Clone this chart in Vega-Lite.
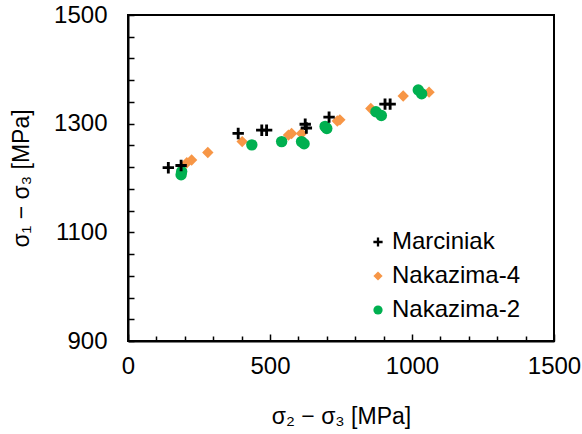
{
  "$schema": "https://vega.github.io/schema/vega-lite/v6.json",
  "autosize": {"type": "none"},
  "padding": {"left": 128, "top": 15, "right": 28, "bottom": 93},
  "width": 426,
  "height": 326,
  "background": "white",
  "config": {
    "view": {"stroke": "black", "strokeWidth": 2},
    "font": "Liberation Sans"
  },
  "data": {
    "values": [
      {"series": "Marciniak", "x": 142, "y": 1219},
      {"series": "Marciniak", "x": 187, "y": 1223},
      {"series": "Marciniak", "x": 388, "y": 1282},
      {"series": "Marciniak", "x": 471, "y": 1288},
      {"series": "Marciniak", "x": 488, "y": 1288},
      {"series": "Marciniak", "x": 624, "y": 1299},
      {"series": "Marciniak", "x": 628, "y": 1292},
      {"series": "Marciniak", "x": 708, "y": 1312},
      {"series": "Marciniak", "x": 905, "y": 1336},
      {"series": "Marciniak", "x": 923, "y": 1336},
      {"series": "Nakazima-4", "x": 207, "y": 1228},
      {"series": "Nakazima-4", "x": 224, "y": 1233},
      {"series": "Nakazima-4", "x": 281, "y": 1247},
      {"series": "Nakazima-4", "x": 402, "y": 1267},
      {"series": "Nakazima-4", "x": 565, "y": 1279},
      {"series": "Nakazima-4", "x": 576, "y": 1282},
      {"series": "Nakazima-4", "x": 611, "y": 1282},
      {"series": "Nakazima-4", "x": 737, "y": 1305},
      {"series": "Nakazima-4", "x": 746, "y": 1307},
      {"series": "Nakazima-4", "x": 855, "y": 1328},
      {"series": "Nakazima-4", "x": 969, "y": 1351},
      {"series": "Nakazima-4", "x": 1060, "y": 1358},
      {"series": "Nakazima-2", "x": 187, "y": 1206},
      {"series": "Nakazima-2", "x": 189, "y": 1212},
      {"series": "Nakazima-2", "x": 436, "y": 1261},
      {"series": "Nakazima-2", "x": 541, "y": 1267},
      {"series": "Nakazima-2", "x": 611, "y": 1267},
      {"series": "Nakazima-2", "x": 620, "y": 1263},
      {"series": "Nakazima-2", "x": 694, "y": 1295},
      {"series": "Nakazima-2", "x": 700, "y": 1291},
      {"series": "Nakazima-2", "x": 873, "y": 1322},
      {"series": "Nakazima-2", "x": 892, "y": 1315},
      {"series": "Nakazima-2", "x": 1022, "y": 1362},
      {"series": "Nakazima-2", "x": 1034, "y": 1355}
    ]
  },
  "mark": {"type": "point", "filled": true, "opacity": 1, "size": 130},
  "encoding": {
    "x": {
      "field": "x", "type": "quantitative",
      "scale": {"domain": [0, 1500], "nice": false},
      "axis": {
        "title": "σ₂ − σ₃ [MPa]",
        "values": [0,100,200,300,400,500,600,700,800,900,1000,1100,1200,1300,1400,1500],
        "labelExpr": "datum.value % 500 === 0 ? datum.label : ''",
        "format": "d",
        "grid": false,
        "domainColor": "black", "domainWidth": 2,
        "tickColor": "black", "tickWidth": 1.5,
        "tickSize": {"condition": {"test": "datum.value % 500 === 0", "value": -7}, "value": -5},
        "labelFontSize": 24, "labelColor": "black", "labelPadding": 20,
        "labelFont": "Liberation Sans", "labelFlush": false,
        "titleFontSize": 23, "titleFontWeight": "normal", "titleColor": "black",
        "titleFont": "Liberation Sans", "titlePadding": 27
      }
    },
    "y": {
      "field": "y", "type": "quantitative",
      "scale": {"domain": [900, 1500], "nice": false, "zero": false},
      "axis": {
        "title": "σ₁ − σ₃ [MPa]",
        "values": [900,940,980,1020,1060,1100,1140,1180,1220,1260,1300,1340,1380,1420,1460,1500],
        "labelExpr": "(datum.value - 900) % 200 === 0 ? datum.label : ''",
        "format": "d",
        "grid": false,
        "domainColor": "black", "domainWidth": 2,
        "tickColor": "black", "tickWidth": 1.5, "tickSize": -6,
        "labelFontSize": 24, "labelColor": "black", "labelPadding": 27,
        "labelFont": "Liberation Sans", "labelFlush": false,
        "titleFontSize": 23, "titleFontWeight": "normal", "titleColor": "black",
        "titleFont": "Liberation Sans", "titlePadding": 20
      }
    },
    "color": {
      "field": "series", "type": "nominal",
      "scale": {"domain": ["Marciniak", "Nakazima-4", "Nakazima-2"], "range": ["#000000", "#F79646", "#00B050"]},
      "legend": {
        "title": null, "orient": "none", "legendX": 238, "legendY": 215,
        "labelFontSize": 24, "labelColor": "black", "labelFont": "Liberation Sans",
        "symbolSize": 85, "rowPadding": 10, "labelOffset": 2, "symbolOpacity": 1
      }
    },
    "shape": {
      "field": "series", "type": "nominal",
      "scale": {"domain": ["Marciniak", "Nakazima-4", "Nakazima-2"], "range": ["M-1,-0.25H-0.25V-1H0.25V-0.25H1V0.25H0.25V1H-0.25V0.25H-1Z", "diamond", "circle"]}
    },
    "order": {"field": "series", "sort": "descending"}
  }
}
